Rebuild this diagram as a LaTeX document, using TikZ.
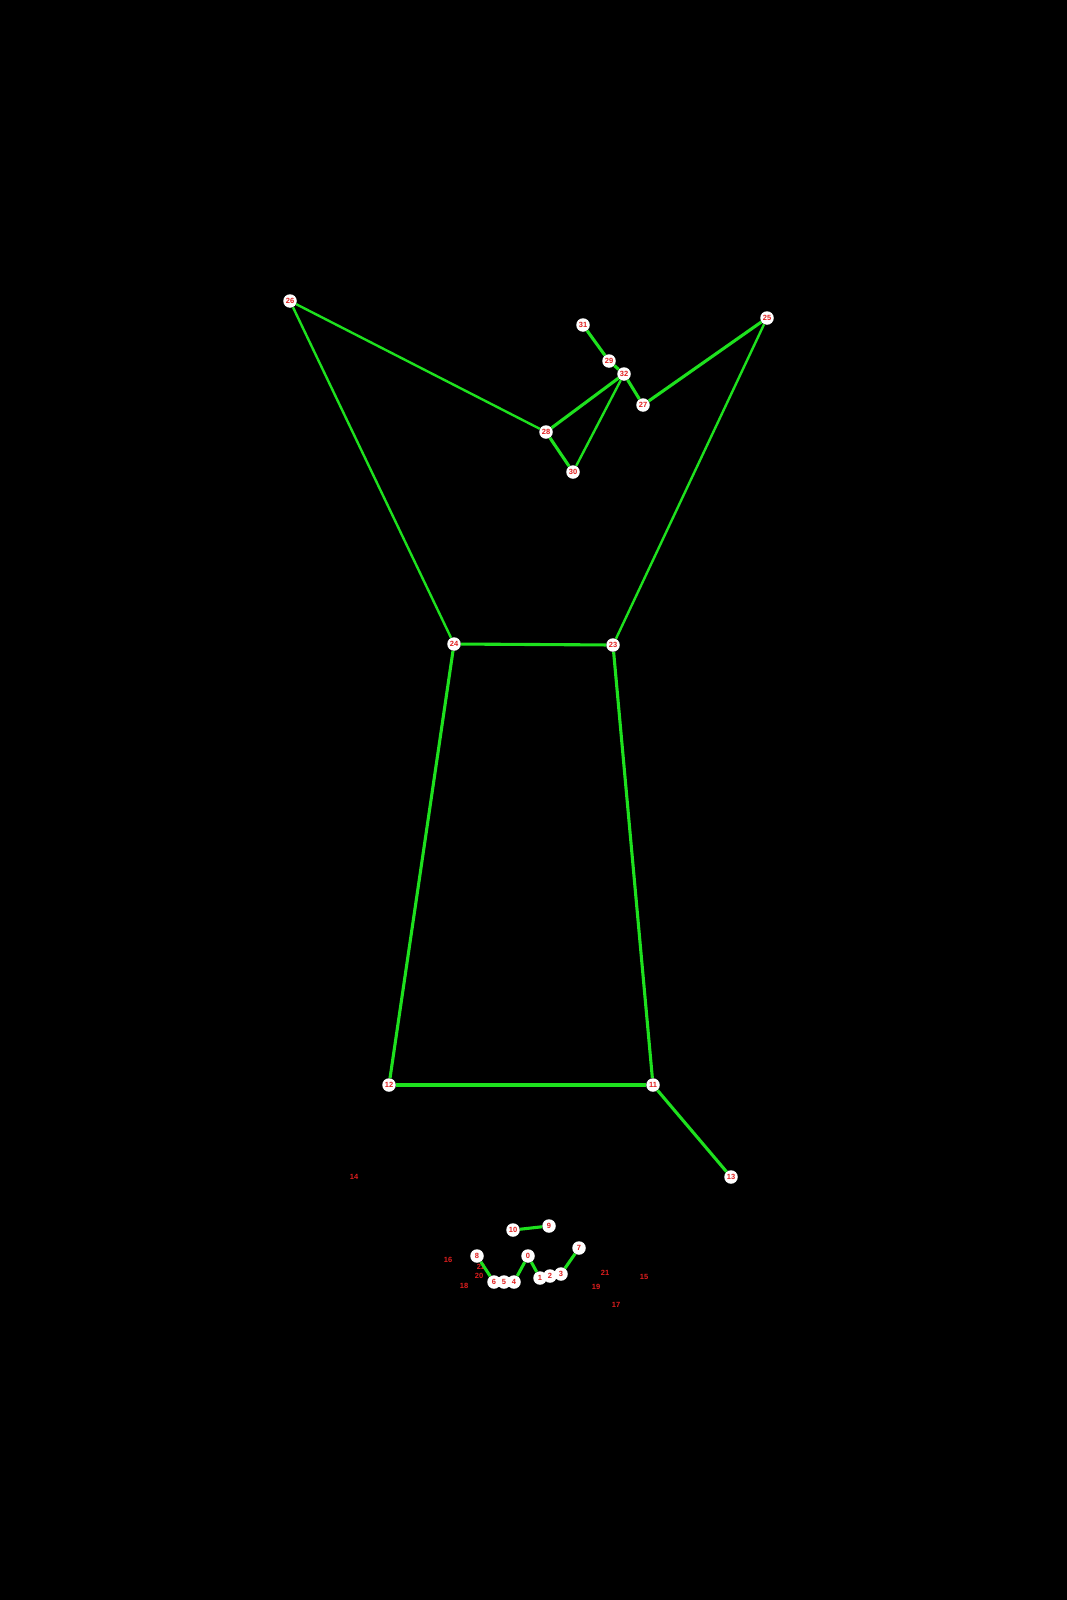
\documentclass[tikz,border=0pt]{standalone}
\usepackage{fontspec}
\setmainfont{Liberation Sans}
\definecolor{limb}{RGB}{30,225,30}
\definecolor{tag}{RGB}{225,30,30}
\begin{document}
\begin{tikzpicture}[x=1pt, y=-1pt,
  kp/.style={circle, fill=white, inner sep=0pt, minimum size=13.5pt, text=tag, font=\fontsize{7.5}{7.5}\selectfont\bfseries},
  tagonly/.style={inner sep=0pt, text=tag, font=\fontsize{7.5}{7.5}\selectfont\bfseries},
  bone/.style={draw=limb, line width=3.1pt},
  thinbone/.style={draw=limb, line width=2.4pt}]
\fill[black] (0, 0) rectangle (1067, 1600);
\node[tagonly] (p14) at(354, 1177) {14};
\node[tagonly] (p15) at(644, 1277) {15};
\node[tagonly] (p16) at(448, 1260) {16};
\node[tagonly] (p17) at(616, 1305) {17};
\node[tagonly] (p18) at(464, 1286) {18};
\node[tagonly] (p19) at(596, 1287) {19};
\node[tagonly] (p20) at(479, 1276) {20};
\node[tagonly] (p21) at(605, 1273) {21};
\node[tagonly] (p22) at(481, 1267) {22};
\node[kp] (p0) at(528, 1256) {0};
\node[kp] (p1) at(540, 1278) {1};
\node[kp] (p2) at(550, 1276) {2};
\node[kp] (p3) at(561, 1274) {3};
\node[kp] (p4) at(514, 1282) {4};
\node[kp] (p5) at(504, 1282) {5};
\node[kp] (p6) at(494, 1282) {6};
\node[kp] (p7) at(579, 1248) {7};
\node[kp] (p8) at(477, 1256) {8};
\node[kp] (p9) at(549, 1226) {9};
\node[kp] (p10) at(513, 1230) {10};
\node[kp] (p11) at(653, 1085) {11};
\node[kp] (p12) at(389, 1085) {12};
\node[kp] (p13) at(731, 1177) {13};
\node[kp] (p23) at(613, 645) {23};
\node[kp] (p24) at(454, 644) {24};
\node[kp] (p25) at(767, 318) {25};
\node[kp] (p26) at(290, 301) {26};
\node[kp] (p27) at(643, 405) {27};
\node[kp] (p28) at(546, 432) {28};
\node[kp] (p29) at(609, 361) {29};
\node[kp] (p30) at(573, 472) {30};
\node[kp] (p31) at(583, 325) {31};
\node[kp] (p32) at(624, 374) {32};
\draw[thinbone] (p26) -- (p24);
\draw[thinbone] (p26) -- (p28);
\draw[bone] (p28) -- (p32);
\draw[bone] (p28) -- (p30);
\draw[thinbone] (p30) -- (p32);
\draw[bone] (p31) -- (p29);
\draw[bone] (p29) -- (p32);
\draw[bone] (p32) -- (p27);
\draw[bone] (p27) -- (p25);
\draw[thinbone] (p25) -- (p23);
\draw[bone] (p24) -- (p23);
\draw[bone] (p24) -- (p12);
\draw[bone] (p23) -- (p11);
\draw[bone] (p12) -- (p11);
\draw[bone] (p11) -- (p13);
\draw[bone] (p10) -- (p9);
\draw[bone] (p8) -- (p6);
\draw[bone] (p4) -- (p0);
\draw[bone] (p0) -- (p1);
\draw[bone] (p3) -- (p7);
\end{tikzpicture}
\end{document}
